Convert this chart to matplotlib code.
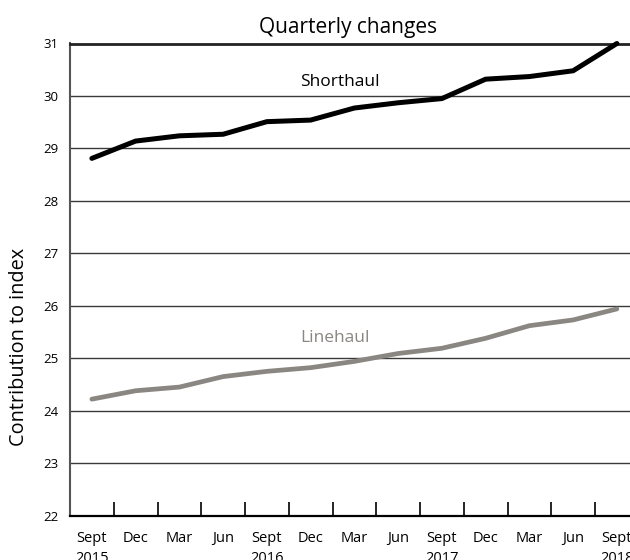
import matplotlib
matplotlib.use("Agg")
import matplotlib.pyplot as plt

quarters = ["Sept\n2015", "Dec", "Mar", "Jun", "Sept\n2016", "Dec", "Mar", "Jun",
            "Sept\n2017", "Dec", "Mar", "Jun", "Sept\n2018"]
shorthaul = [28.81, 29.14, 29.24, 29.27, 29.51, 29.54, 29.77, 29.87, 29.95,
             30.32, 30.37, 30.48, 31.00]
linehaul = [24.22, 24.38, 24.45, 24.65, 24.75, 24.82, 24.94, 25.09, 25.19,
            25.38, 25.62, 25.73, 25.94]
yticks = [22, 23, 24, 25, 26, 27, 28, 29, 30, 31]

plt.rcParams['font.family'] = ['Open Sans', 'DejaVu Sans']

fig = plt.figure(figsize=(6.3, 5.6), dpi=100)
ax = fig.add_axes([70/630, 1-515.6/560, 13*43.75/630, (515.6-43.5)/560])

x = list(range(len(quarters)))
ax.plot(x, shorthaul, color='black', lw=3.6, solid_capstyle='round',
        solid_joinstyle='miter', clip_on=False, zorder=5)
ax.plot(x, linehaul, color='#8a8681', lw=3.4, solid_capstyle='round',
        solid_joinstyle='miter', clip_on=False, zorder=5)

ax.set_xlim(-0.5, 12.5)
ax.set_ylim(22, 31)

for v in yticks[1:-1]:
    ax.axhline(v, color='#3a3a3a', lw=1.0, zorder=1)

ax.set_yticks(yticks)
ax.set_yticklabels([str(v) for v in yticks], fontsize=9.5)
ax.tick_params(axis='y', length=0, pad=8)

ax.set_xticks([i + 0.5 for i in range(12)], minor=False)
ax.set_xticklabels([])
ax.tick_params(axis='x', direction='in', length=10, width=1.2, color='black')
ax.set_xticks(x, minor=True)
ax.set_xticklabels(quarters, minor=True, fontsize=10.5, linespacing=1.45, va='top')
ax.tick_params(axis='x', which='minor', length=0, pad=11)

ax.spines['right'].set_visible(False)
ax.spines['top'].set_color('#222222')
ax.spines['top'].set_linewidth(2.0)
ax.spines['bottom'].set_color('black')
ax.spines['bottom'].set_linewidth(1.6)
ax.spines['left'].set_color('#555555')
ax.spines['left'].set_linewidth(1.5)

fig.text(340/630, 1-82.5/560, "Shorthaul", fontsize=12.5, ha='center', va='center', color='black')
fig.text(335.5/630, 1-338/560, "Linehaul", fontsize=12.5, ha='center', va='center', color='#8a8681')

fig.text(348/630, 1-27/560, "Quarterly changes", fontsize=15, ha='center', va='center')
fig.text(19/630, 1-347/560, "Contribution to index", fontsize=14.3, rotation=90,
         ha='center', va='center')

fig.savefig("out.png", dpi=100)
